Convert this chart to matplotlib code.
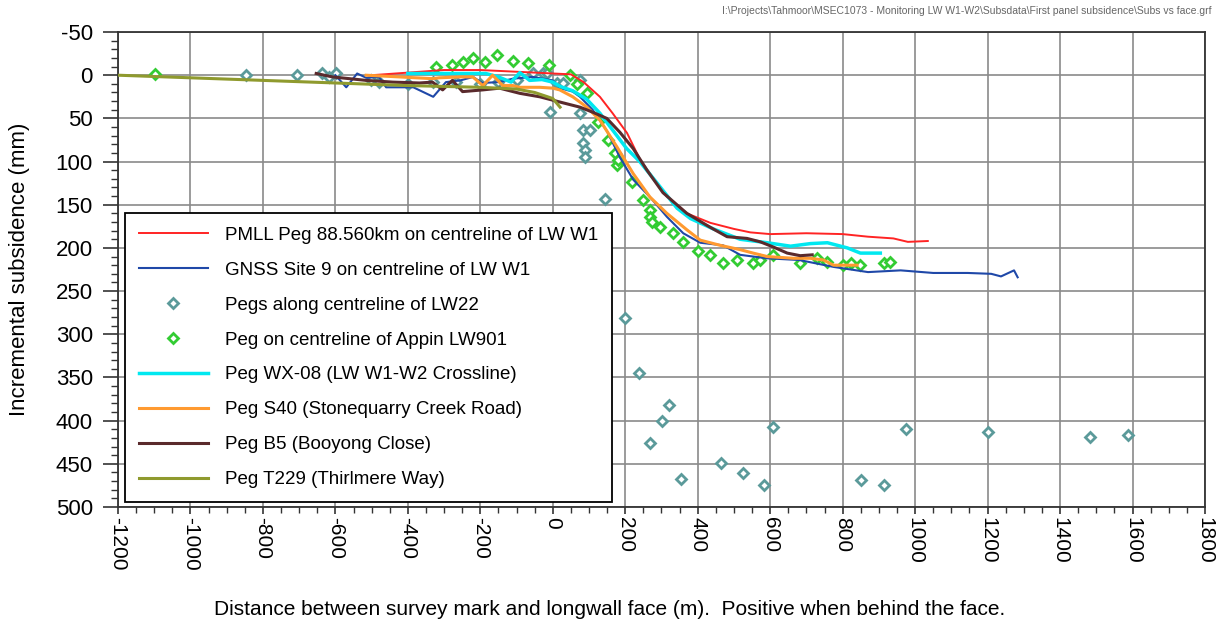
import numpy as np
import matplotlib
matplotlib.use("Agg")
import matplotlib.pyplot as plt
from matplotlib.ticker import MultipleLocator

plt.rcParams["font.family"] = ["Liberation Sans", "DejaVu Sans"]
plt.rcParams["axes.unicode_minus"] = False

# ---------------- DATA ----------------
# PMLL Peg 88.560km on centreline of LW W1
red_x = [-500, -400, -300, -200, -100, 0, 50, 85, 130, 165, 205, 240, 270, 315,
         370, 435, 500, 545, 600, 700, 800, 870, 940, 980, 1035]
red_y = [0, -3, -6, -6, -4, -2, -1, 8, 25, 44, 67, 97, 115, 141,
         160, 171, 178, 182, 184, 183, 184, 187, 189, 193, 192]

# GNSS Site 9 on centreline of LW W1
blue_x = [-600, -570, -540, -515, -480, -460, -420, -385, -330, -295, -255, -220,
          -195, -150, -110, -55, 0, 20, 55, 75, 110, 150, 185, 222, 268, 315,
          360, 407, 470, 517, 590, 680, 775, 870, 960, 1050, 1145, 1210, 1237,
          1273, 1283]
blue_y = [0, 14, -2, 3, 2, 14, 14, 14, 25, 8, 6, 2,
          9, 8, 4, 2, 6, 15, 19, 25, 40, 65, 95, 121, 141, 164,
          183, 194, 197, 208, 212, 214, 222, 228, 226, 229, 229, 230, 233,
          226, 234]

# Pegs along centreline of LW22
lw22_x = [-847, -705, -636, -617, -598, -501, -480, -400, -330, -266, -200, -150,
          -100, -55, -28, -17, -8, 11, 28, 75, 75, 83, 102, 83, 88, 88, 144,
          199, 238, 268, 301, 321, 354, 465, 526, 584, 609, 852, 913, 974,
          1200, 1483, 1588]
lw22_y = [0, 0, -2, 2, -2, 6, 8, 10, 8, 8, 10, 8,
          5, -2, -2, -2, 43, 9, 9, 5, 44, 64, 64, 79, 87, 95, 143,
          281, 345, 426, 400, 382, 468, 449, 461, 475, 407, 469, 475, 410,
          413, 419, 417]

# Peg on centreline of Appin LW901
lw901_x = [-1098, -321, -279, -249, -219, -188, -155, -110, -69, -11, 47, 66,
           94, 124, 152, 172, 177, 180, 218, 249, 268, 268, 274, 296, 332,
           360, 401, 434, 470, 509, 553, 573, 609, 683, 730, 758, 802, 822,
           849, 913, 932]
lw901_y = [-1, -9, -12, -15, -20, -15, -23, -17, -14, -12, 0, 10,
           21, 54, 75, 90, 104, 98, 124, 145, 156, 164, 170, 176, 183,
           193, 203, 208, 218, 214, 218, 214, 208, 218, 212, 216, 220, 218,
           220, 218, 216]

# Peg WX-08 (LW W1-W2 Crossline)
cyan_x = [-400, -330, -240, -185, -150, -115, -91, -64, -30, 0, 20, 55, 94, 130,
          166, 204, 240, 288, 343, 380, 443, 517, 592, 656, 711, 758, 813,
          849, 904]
cyan_y = [-2, -2, -2, -2, 2, 8, -3, 6, 5, 8, 13, 18, 28, 44,
          64, 85, 100, 125, 154, 166, 178, 190, 194, 198, 195, 194, 200,
          206, 206]

# Peg S40 (Stonequarry Creek Road)
orange_x = [-515, -423, -332, -313, -257, -221, -193, -166, -138, -110, -91,
            -36, 0, 19, 55, 94, 130, 177, 222, 268, 315, 370, 407, 462, 517,
            553, 592, 664, 711, 747, 775, 840]
orange_y = [0, 2, 4, 3, 2, 2, 12, 0, 12, 12, 14,
            14, 15, 17, 25, 37, 52, 83, 114, 141, 160, 179, 191, 197, 202,
            206, 210, 212, 212, 214, 220, 220]

# Peg B5 (Booyong Close)
brown_x = [-653, -608, -515, -442, -368, -332, -304, -277, -249, -193, -147,
           -91, -36, 19, 75, 111, 149, 185, 222, 260, 304, 370, 434, 481,
           536, 573, 609, 647, 683, 716]
brown_y = [-2, 2, 6, 8, 9, 8, 17, 6, 19, 17, 15,
           21, 25, 31, 37, 43, 50, 66, 85, 110, 136, 160, 176, 187,
           189, 193, 199, 206, 209, 208]

# Peg T229 (Thirlmere Way)
olive_x = [-1200, -1000, -800, -600, -400, -200, -100, -50, 0, 20]
olive_y = [0, 3, 6, 9, 12, 14, 16, 20, 27, 37]

labels = [
    "PMLL Peg 88.560km on centreline of LW W1",
    "GNSS Site 9 on centreline of LW W1",
    "Pegs along centreline of LW22",
    "Peg on centreline of Appin LW901",
    "Peg WX-08 (LW W1-W2 Crossline)",
    "Peg S40 (Stonequarry Creek Road)",
    "Peg B5 (Booyong Close)",
    "Peg T229 (Thirlmere Way)",
]

# ---------------- FIGURE ----------------
fig = plt.figure(figsize=(12.19, 6.28), dpi=100)
ax = fig.add_axes([0.0968, 0.1927, 0.8917, 0.7563])

ax.plot(red_x, red_y, color="#ff2424", lw=1.4, label=labels[0], zorder=4)
ax.plot(blue_x, blue_y, color="#1f48a8", lw=1.5, label=labels[1], zorder=4)
ax.plot(lw22_x, lw22_y, ls="none", marker="D", ms=5.5, mfc="white",
        mec="#5b9a9a", mew=2, label=labels[2], zorder=3)
ax.plot(lw901_x, lw901_y, ls="none", marker="D", ms=5.5, mfc="white",
        mec="#33cc33", mew=2, label=labels[3], zorder=3)
ax.plot(cyan_x, cyan_y, color="#00e8f0", lw=2.5, label=labels[4], zorder=4)
ax.plot(orange_x, orange_y, color="#ff9a30", lw=2.2, label=labels[5], zorder=4)
ax.plot(brown_x, brown_y, color="#5a2a2c", lw=2.2, label=labels[6], zorder=4)
ax.plot(olive_x, olive_y, color="#8f9a2e", lw=2.2, label=labels[7], zorder=4)

ax.set_xlim(-1200, 1800)
ax.set_ylim(500, -50)
ax.xaxis.set_major_locator(MultipleLocator(200))
ax.xaxis.set_minor_locator(MultipleLocator(50))
ax.yaxis.set_major_locator(MultipleLocator(50))
ax.yaxis.set_minor_locator(MultipleLocator(10))

ax.grid(which="major", color="#8a8a8a", lw=1.2, zorder=0)
ax.set_axisbelow(True)
for s in ax.spines.values():
    s.set_color("#333333")
    s.set_linewidth(1.3)

ax.tick_params(axis="y", which="major", direction="out", length=11, width=1.2,
               colors="#333333", labelsize=16, labelcolor="black", pad=7)
ax.tick_params(axis="y", which="minor", direction="out", length=5, width=1,
               colors="#333333")
ax.tick_params(axis="x", which="major", direction="out", length=5, width=1.2,
               colors="#333333", labelsize=15, labelcolor="black", pad=2)
ax.tick_params(axis="x", which="minor", direction="out", length=4, width=1,
               colors="#333333")
for t in ax.get_xticklabels():
    t.set_rotation(-90)

fig.text(20 / 1219, 0.571, "Incremental subsidence (mm)", rotation=90,
         ha="center", va="center", fontsize=16)
fig.text(0.5, 0.029,
         "Distance between survey mark and longwall face (m).  Positive when behind the face.",
         ha="center", va="center", fontsize=15)
fig.text(0.994, 0.982,
         "I:\\Projects\\Tahmoor\\MSEC1073 - Monitoring LW W1-W2\\Subsdata\\First panel subsidence\\Subs vs face.grf",
         ha="right", va="center", fontsize=7.5, color="#666666")

leg = ax.legend(loc="upper left", bbox_to_anchor=(0.006, 0.62), fontsize=13.5,
                frameon=True, fancybox=False, framealpha=1, edgecolor="black",
                handlelength=3.7, handletextpad=0.9, labelspacing=0.95,
                borderpad=0.75, borderaxespad=0, numpoints=1)
leg.get_frame().set_linewidth(1.3)
leg.set_zorder(6)

fig.savefig("out.png", dpi=100)
